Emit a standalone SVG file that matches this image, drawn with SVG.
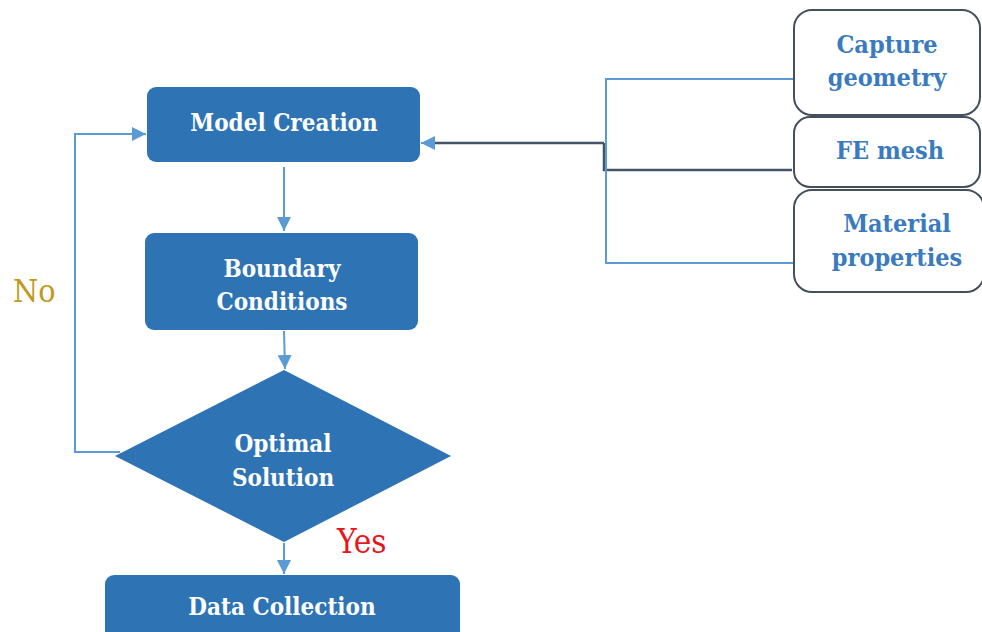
<svg xmlns="http://www.w3.org/2000/svg" width="982" height="632" viewBox="0 0 982 632">
<defs>
<style>
.box{fill:#2E74B5;}
.wt{fill:#ffffff;font-family:"DejaVu Serif Condensed","DejaVu Serif",serif;font-stretch:condensed;font-size:24px;font-weight:bold;text-anchor:middle;}
.side{fill:#ffffff;stroke:#44505e;stroke-width:2;}
.bt{fill:#3A7BC0;font-family:"DejaVu Serif Condensed","DejaVu Serif",serif;font-stretch:condensed;font-size:25px;font-weight:bold;text-anchor:middle;}
.ln{fill:none;stroke:#5B9BD5;stroke-width:2;}
.dk{fill:none;stroke:#44546A;stroke-width:2.5;}
.lbl{font-family:"DejaVu Serif Condensed","DejaVu Serif",serif;font-stretch:condensed;}
</style>
<marker id="ah2" viewBox="0 0 10 10" refX="10" refY="5" markerWidth="14" markerHeight="14" orient="auto" markerUnits="userSpaceOnUse">
<path d="M0,0 L10,5 L0,10 z" fill="#5B9BD5"/>
</marker>
</defs>
<rect width="982" height="632" fill="#ffffff"/>
<g id="connectors">
<path class="ln" d="M284,167 L284,231" marker-end="url(#ah2)"/>
<path class="ln" d="M284,331 L285,369" marker-end="url(#ah2)"/>
<path class="ln" d="M284,543 L284,574" marker-end="url(#ah2)"/>
<path class="ln" d="M120,452 L75,452 L75,134 L146,134" marker-end="url(#ah2)"/>
<path class="dk" d="M604,143 L434,143"/>
<path class="ln" d="M434,143 L421,143" marker-end="url(#ah2)"/>
<path class="dk" d="M604,143 L604,170 L792,170"/>
<path class="ln" d="M793,79 L606,79 L606,263 L793,263"/>
</g>
<g id="model-creation">
<rect class="box" x="147" y="87" width="273" height="75" rx="9"/>
<text class="wt" x="284" y="131">Model Creation</text>
</g>
<g id="boundary-conditions">
<rect class="box" x="145" y="233" width="273" height="97" rx="9"/>
<text class="wt" x="282" y="277">Boundary</text>
<text class="wt" x="282" y="310">Conditions</text>
</g>
<g id="optimal-solution">
<polygon class="box" points="284,370 451,456 284,542 115,456"/>
<text class="wt" x="283" y="452">Optimal</text>
<text class="wt" x="283" y="486">Solution</text>
</g>
<g id="data-collection">
<rect class="box" x="105" y="575" width="355" height="70" rx="9"/>
<text class="wt" x="282" y="615">Data Collection</text>
</g>
<g id="capture-geometry">
<rect class="side" x="794" y="10" width="186" height="105" rx="18"/>
<text class="bt" x="887" y="53">Capture</text>
<text class="bt" x="887" y="86">geometry</text>
</g>
<g id="fe-mesh">
<rect class="side" x="794" y="117" width="186" height="70" rx="16"/>
<text class="bt" x="890" y="159">FE mesh</text>
</g>
<g id="material-properties">
<rect class="side" x="794" y="190" width="190" height="102" rx="18"/>
<text class="bt" x="897" y="232">Material</text>
<text class="bt" x="897" y="266">properties</text>
</g>
<g id="labels">
<text class="lbl" x="13" y="302" font-size="32" fill="#C19A1B">No</text>
<text class="lbl" x="337" y="553" font-size="33" fill="#E8161B">Yes</text>
</g>
</svg>
